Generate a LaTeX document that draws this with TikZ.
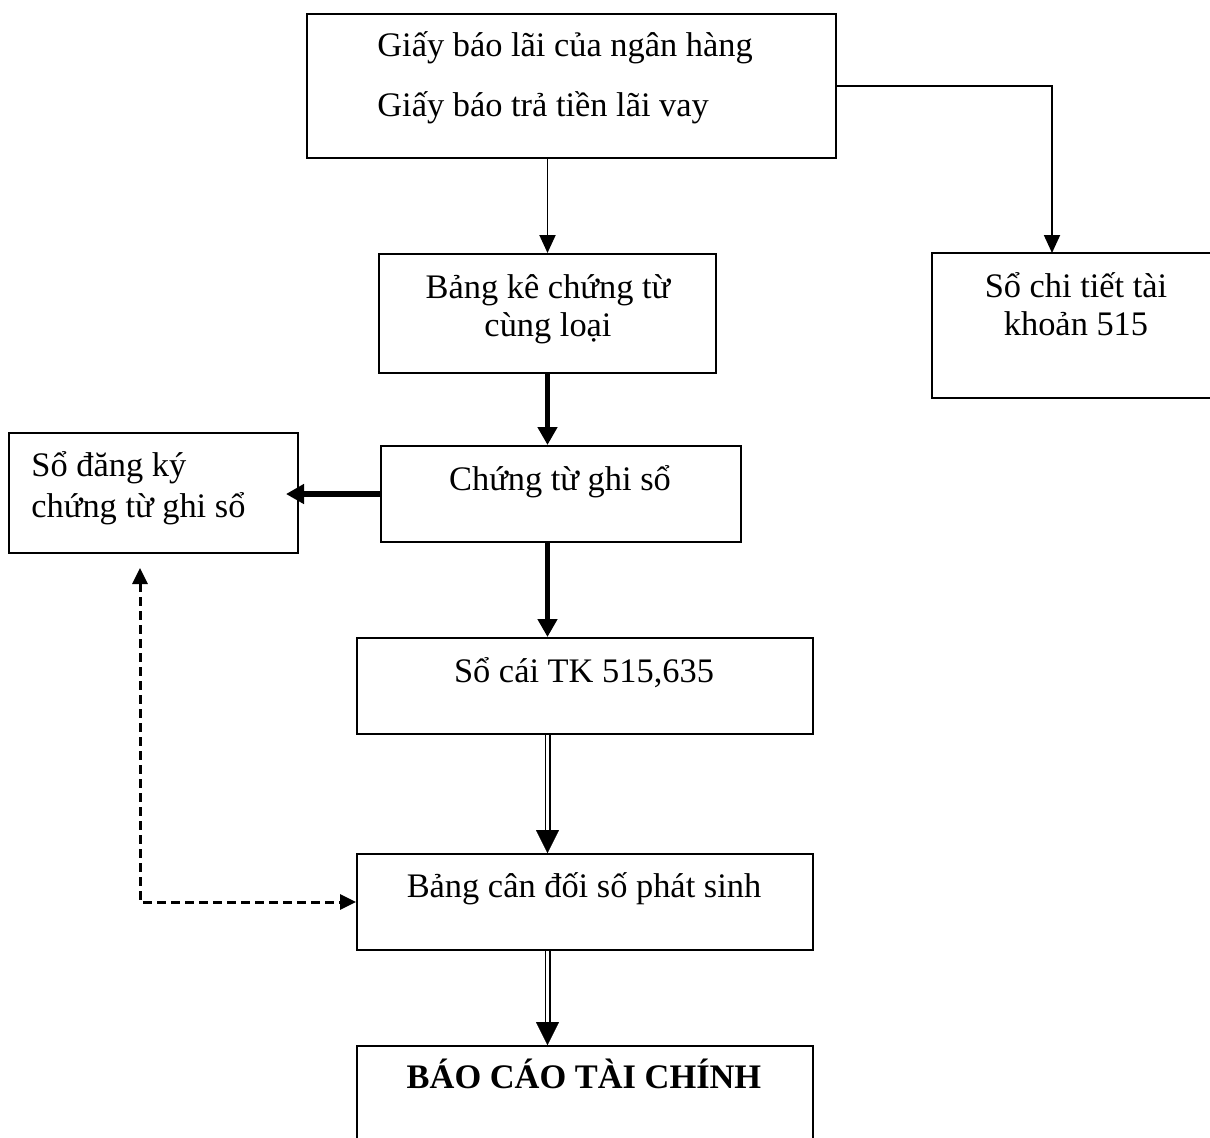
\documentclass[tikz,border=0pt]{standalone}
\usepackage{fontspec}
\setmainfont{Liberation Serif}
\usetikzlibrary{arrows.meta,calc}
\newcommand\linesC[3]{\vtop{\lineskiplimit=-100pt\baselineskip=#1\halign{\hfil##\hfil\cr#2\cr#3\cr}}}
\newcommand\linesL[3]{\vtop{\lineskiplimit=-100pt\baselineskip=#1\halign{##\hfil\cr#2\cr#3\cr}}}
\newcommand\mkbox[5]{\node[box, minimum width={(#4-#2)*0.5pt}, minimum height={(#5-#3)*0.5pt}] (#1) at ({(#2+#4)/2},{(#3+#5)/2}) {};}
\begin{document}
\begin{tikzpicture}[x=0.5pt,y=-0.5pt,
  box/.style={draw, line width=1pt, rectangle, inner sep=0pt},
  txt/.style={inner sep=0pt, font=\fontsize{17.2}{19}\selectfont},
  thinarrow/.style={line width=0.95pt, -{Triangle[length=9pt,width=8pt]}},
  heavyarrow/.style={line width=2.6pt, -{Triangle[length=9pt,width=9.5pt]}},
  dblline/.style={double, line width=0.8pt, double distance=1.4pt},
  dbltip/.style={line width=0.1pt, -{Triangle[length=11.5pt,width=11.5pt]}},
  dashedarrow/.style={line width=1.5pt, dash pattern=on 4.5pt off 2.5pt,
     {Triangle[length=8pt,width=7.5pt]}-{Triangle[length=8pt,width=7.5pt]}}
]
\useasboundingbox (0,0) rectangle (1210,1137);

% boxes
\mkbox{b1}{307}{14}{836}{158}
\mkbox{b2}{379}{254}{716}{373}
\mkbox{b8}{932}{253}{1216}{398}
\mkbox{b3}{381}{446}{741}{542}
\mkbox{b4}{9}{433}{298}{553}
\mkbox{b5}{357}{638}{813}{734}
\mkbox{b6}{357}{854}{813}{950}
\mkbox{b7}{357}{1046}{813}{1150}

% texts
\node[txt, anchor=base west] (t1) at (377,56) {\linesL{30pt}{Giấy báo lãi của ngân hàng}{Giấy báo trả tiền lãi vay}};
\node[txt, anchor=base] (t2) at (548,298) {\linesC{19pt}{Bảng kê chứng từ}{cùng loại}};
\node[txt, anchor=base] (t8) at (1076,297) {\linesC{19pt}{Sổ chi tiết tài}{khoản 515}};
\node[txt, anchor=base] (t3) at (560,490) {Chứng từ ghi sổ};
\node[txt, anchor=base west] (t4) at (31,476) {\linesL{20.5pt}{Sổ đăng ký}{chứng từ ghi sổ}};
\node[txt, anchor=base] (t5) at (584,682) {Sổ cái TK 515,635};
\node[txt, anchor=base] (t6) at (584,897) {Bảng cân đối số phát sinh};
\node[txt, anchor=base] (t7) at (584,1088) {\textbf{BÁO CÁO TÀI CHÍNH}};

% connectors
\coordinate (c8) at (1052,253);
\draw[thinarrow] (b2.north |- b1.south) -- (b2.north);
\draw[thinarrow] (b1.east) -| (c8);
\draw[heavyarrow] (b2.south) -- (b2.south |- b3.north);
\draw[heavyarrow, shorten >=-6.5pt] (b3.west) -- (b3.west -| b4.east);
\draw[heavyarrow] (b2.south |- b3.south) -- (b2.south |- b5.north);

\coordinate (m5) at (b2.south |- b5.south);
\coordinate (m6) at (b2.south |- b6.north);
\coordinate (m6b) at (b2.south |- b6.south);
\coordinate (m7) at (b2.south |- b7.north);
\draw[dblline, shorten >=11pt] (m5) -- (m6);
\draw[dbltip] ([yshift=11.5pt]m6) -- (m6);
\draw[dblline, shorten >=11pt] (m6b) -- (m7);
\draw[dbltip] ([yshift=11.5pt]m7) -- (m7);

\coordinate (d4) at (140,568);
\draw[dashedarrow] (d4) |- (b6.west);
\end{tikzpicture}
\end{document}
